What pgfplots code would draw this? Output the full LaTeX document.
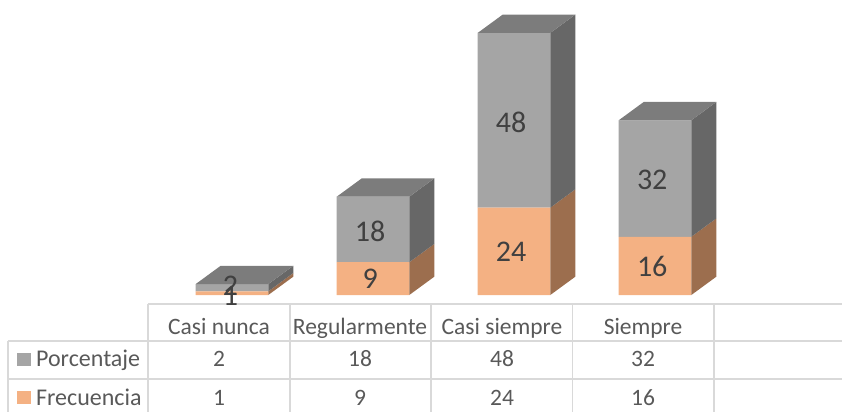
\documentclass[border=0pt]{standalone}
\usepackage{fontspec}
\setmainfont{Carlito}
\usepackage{pgfplots}
\pgfplotsset{compat=1.18}
\definecolor{orfront}{HTML}{F4B183}
\definecolor{orside}{HTML}{9C6E4E}
\definecolor{grfront}{HTML}{A5A5A5}
\definecolor{grside}{HTML}{676767}
\definecolor{grtop}{HTML}{7C7C7C}
\definecolor{gridc}{HTML}{D9D9D9}
\definecolor{txt}{HTML}{595959}
\definecolor{lbl}{HTML}{404040}
\pgfplotsset{base/.style={
  width=842pt, height=412pt, scale only axis,
  xmin=-1.645, xmax=4.326, ymin=-32.14, ymax=81.04,
  axis lines=none, clip=false,
}}
\begin{document}
\begin{tikzpicture}
\useasboundingbox (0,0) rectangle (842pt,412pt);
% front faces
\begin{axis}[base, ybar stacked, bar width=0.5148]
  \addplot[fill=orfront, draw=none] coordinates {(0,1) (1,9) (2,24) (3,16)};
  \addplot[fill=grfront, draw=none] coordinates {(0,2) (1,18) (2,48) (3,32)};
\end{axis}
\begin{axis}[base]
  % side and top faces, x = category +- half bar + depth, y = stack + depth
  \addplot[fill=orside, draw=none] coordinates {(0.2574,0) (0.4347,5.03) (0.4347,6.03) (0.2574,1)};
  \addplot[fill=orside, draw=none] coordinates {(1.2574,0) (1.4347,5.03) (1.4347,14.03) (1.2574,9)};
  \addplot[fill=orside, draw=none] coordinates {(2.2574,0) (2.4347,5.03) (2.4347,29.03) (2.2574,24)};
  \addplot[fill=orside, draw=none] coordinates {(3.2574,0) (3.4347,5.03) (3.4347,21.03) (3.2574,16)};
  \addplot[fill=grside, draw=none] coordinates {(0.2574,1) (0.4347,6.03) (0.4347,8.03) (0.2574,3)};
  \addplot[fill=grside, draw=none] coordinates {(1.2574,9) (1.4347,14.03) (1.4347,32.03) (1.2574,27)};
  \addplot[fill=grside, draw=none] coordinates {(2.2574,24) (2.4347,29.03) (2.4347,77.03) (2.2574,72)};
  \addplot[fill=grside, draw=none] coordinates {(3.2574,16) (3.4347,21.03) (3.4347,53.03) (3.2574,48)};
  \addplot[fill=grtop, draw=none] coordinates {(-0.2574,3) (-0.0801,8.03) (0.4347,8.03) (0.2574,3)};
  \addplot[fill=grtop, draw=none] coordinates {(0.7426,27) (0.9199,32.03) (1.4347,32.03) (1.2574,27)};
  \addplot[fill=grtop, draw=none] coordinates {(1.7426,72) (1.9199,77.03) (2.4347,77.03) (2.2574,72)};
  \addplot[fill=grtop, draw=none] coordinates {(2.7426,48) (2.9199,53.03) (3.4347,53.03) (3.2574,48)};
  % labels inside the bars
  \addplot[draw=none, nodes near coords, point meta=explicit symbolic,
    nodes near coords style={anchor=center, font=\fontsize{30}{30}\selectfont, text=lbl}]
    coordinates {(-0.01,2.5)[2] (0.98,17.5)[18] (1.98,47.5)[48] (2.98,31.6)[32]
                 (-0.01,-0.3)[1] (0.98,4.4)[9] (1.98,11.8)[24] (2.98,7.7)[16]};
  % data table
  \addplot[gridc, line width=1.6pt] coordinates {(-0.596,-2.47) (4.326,-2.47)};
  \addplot[gridc, line width=1.6pt] coordinates {(-1.589,-12.64) (4.326,-12.64)};
  \addplot[gridc, line width=1.6pt] coordinates {(-1.589,-23.08) (4.326,-23.08)};
  \addplot[gridc, line width=1.6pt] coordinates {(-1.589,-12.64) (-1.589,-32.14)};
  \addplot[gridc, line width=1.6pt] coordinates {(-0.596,-2.47) (-0.596,-32.14)};
  \addplot[gridc, line width=1.6pt] coordinates {(0.411,-2.47) (0.411,-32.14)};
  \addplot[gridc, line width=1.6pt] coordinates {(1.411,-2.47) (1.411,-32.14)};
  \addplot[gridc, line width=1.6pt] coordinates {(2.416,-2.47) (2.416,-32.14)};
  \addplot[gridc, line width=1.6pt] coordinates {(3.418,-2.47) (3.418,-32.14)};
  \addplot[fill=grfront, draw=none] coordinates {(-1.525,-15.9) (-1.428,-15.9) (-1.428,-19.5) (-1.525,-19.5)};
  \addplot[fill=orfront, draw=none] coordinates {(-1.525,-26.4) (-1.428,-26.4) (-1.428,-29.9) (-1.525,-29.9)};
  \begin{scope}[every node/.style={text=txt, font=\fontsize{23.5}{24}\selectfont, inner sep=0pt,
      text height=16.2pt, text depth=1.2pt}]
    \node at (axis cs:-0.092,-8.79) {Casi nunca};
    \node at (axis cs:0.908,-8.79) {Regularmente};
    \node at (axis cs:1.915,-8.79) {Casi siempre};
    \node at (axis cs:2.915,-8.79) {Siempre};
    \node[anchor=west, font=\fontsize{24}{25}\selectfont] at (axis cs:-1.39,-17.58) {Porcentaje};
    \node[anchor=west, font=\fontsize{24}{25}\selectfont] at (axis cs:-1.39,-28.3) {Frecuencia};
    \node at (axis cs:-0.092,-17.58) {2};
    \node at (axis cs:0.908,-17.58) {18};
    \node at (axis cs:1.915,-17.58) {48};
    \node at (axis cs:2.915,-17.58) {32};
    \node at (axis cs:-0.092,-28.3) {1};
    \node at (axis cs:0.908,-28.3) {9};
    \node at (axis cs:1.915,-28.3) {24};
    \node at (axis cs:2.915,-28.3) {16};
  \end{scope}
\end{axis}
\end{tikzpicture}
\end{document}
